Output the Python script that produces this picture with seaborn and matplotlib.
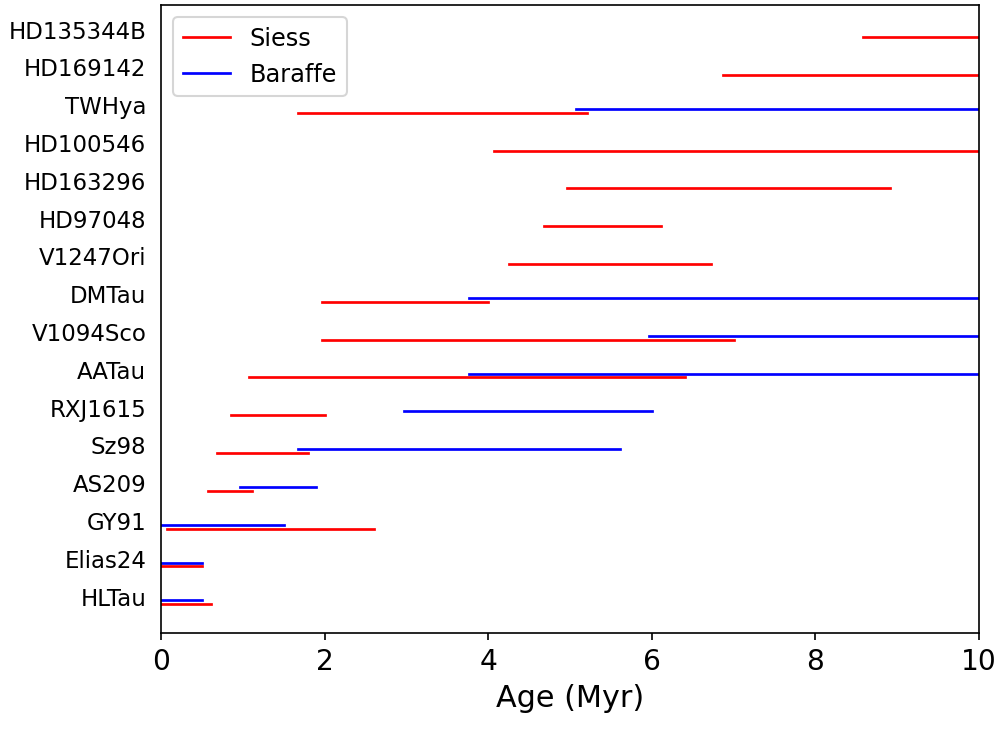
import matplotlib
matplotlib.use("Agg")
import matplotlib.pyplot as plt
import seaborn as sns
import pandas as pd
import numpy as np

# Stars listed bottom to top
stars = ["HLTau", "Elias24", "GY91", "AS209", "Sz98", "RXJ1615", "AATau",
         "V1094Sco", "DMTau", "V1247Ori", "HD97048", "HD163296", "HD100546",
         "TWHya", "HD169142", "HD135344B"]

siess_lo = [0.0, 0.0, 0.07, 0.57, 0.68, 0.86, 1.07, 1.97, 1.97, 4.26, 4.68, 4.96, 4.07, 1.67, 6.87, 8.58]
siess_hi = [0.61, 0.5, 2.61, 1.11, 1.80, 2.0, 6.41, 7.0, 4.0, 6.72, 6.11, 8.91, 10.0, 5.21, 10.0, 10.0]

baraffe_lo = [0.0, 0.0, 0.0, 0.97, 1.67, 2.97, 3.76, 5.97, 3.76, None, None, None, None, 5.07, None, None]
baraffe_hi = [0.5, 0.5, 1.51, 1.90, 5.61, 6.0, 10.0, 10.0, 10.0, None, None, None, None, 10.0, None, None]

models = ["Siess", "Baraffe"]
colors = {"Siess": "red", "Baraffe": "blue"}
offsets = {"Siess": -0.2, "Baraffe": -0.1}

rows = []
for i, s in enumerate(stars):
    for m, lo_arr, hi_arr in (("Siess", siess_lo, siess_hi), ("Baraffe", baraffe_lo, baraffe_hi)):
        lo, hi = lo_arr[i], hi_arr[i]
        if lo is None:
            continue
        for a in (lo, hi):
            rows.append({"star": s, "model": m, "age": a,
                         "ypos": i + offsets[m], "seg": f"{s}_{m}"})
df = pd.DataFrame(rows)

fig = plt.figure(figsize=(1003 / 150, 729 / 150), dpi=150)
ax = fig.add_axes([0.1605, 0.1317, 0.976 - 0.1605, 0.9931 - 0.1317])

sns.lineplot(data=df, x="age", y="ypos", hue="model", hue_order=models,
             palette=colors, units="seg", estimator=None, sort=False,
             linewidth=1.3, ax=ax)

ax.set_xlim(0, 10)
ax.set_ylim(-0.96, 15.65)
ax.set_yticks(range(len(stars)))
ax.set_yticklabels(stars, fontsize=11)
ax.tick_params(axis="y", left=False)
ax.tick_params(axis="x", labelsize=13.5)
ax.set_xlabel("Age (Myr)", fontsize=14.5)
ax.set_ylabel("")

handles, labels = ax.get_legend_handles_labels()
ax.legend(handles, labels, loc="upper left", fontsize=11.5)

fig.savefig("out.png", dpi=150)
